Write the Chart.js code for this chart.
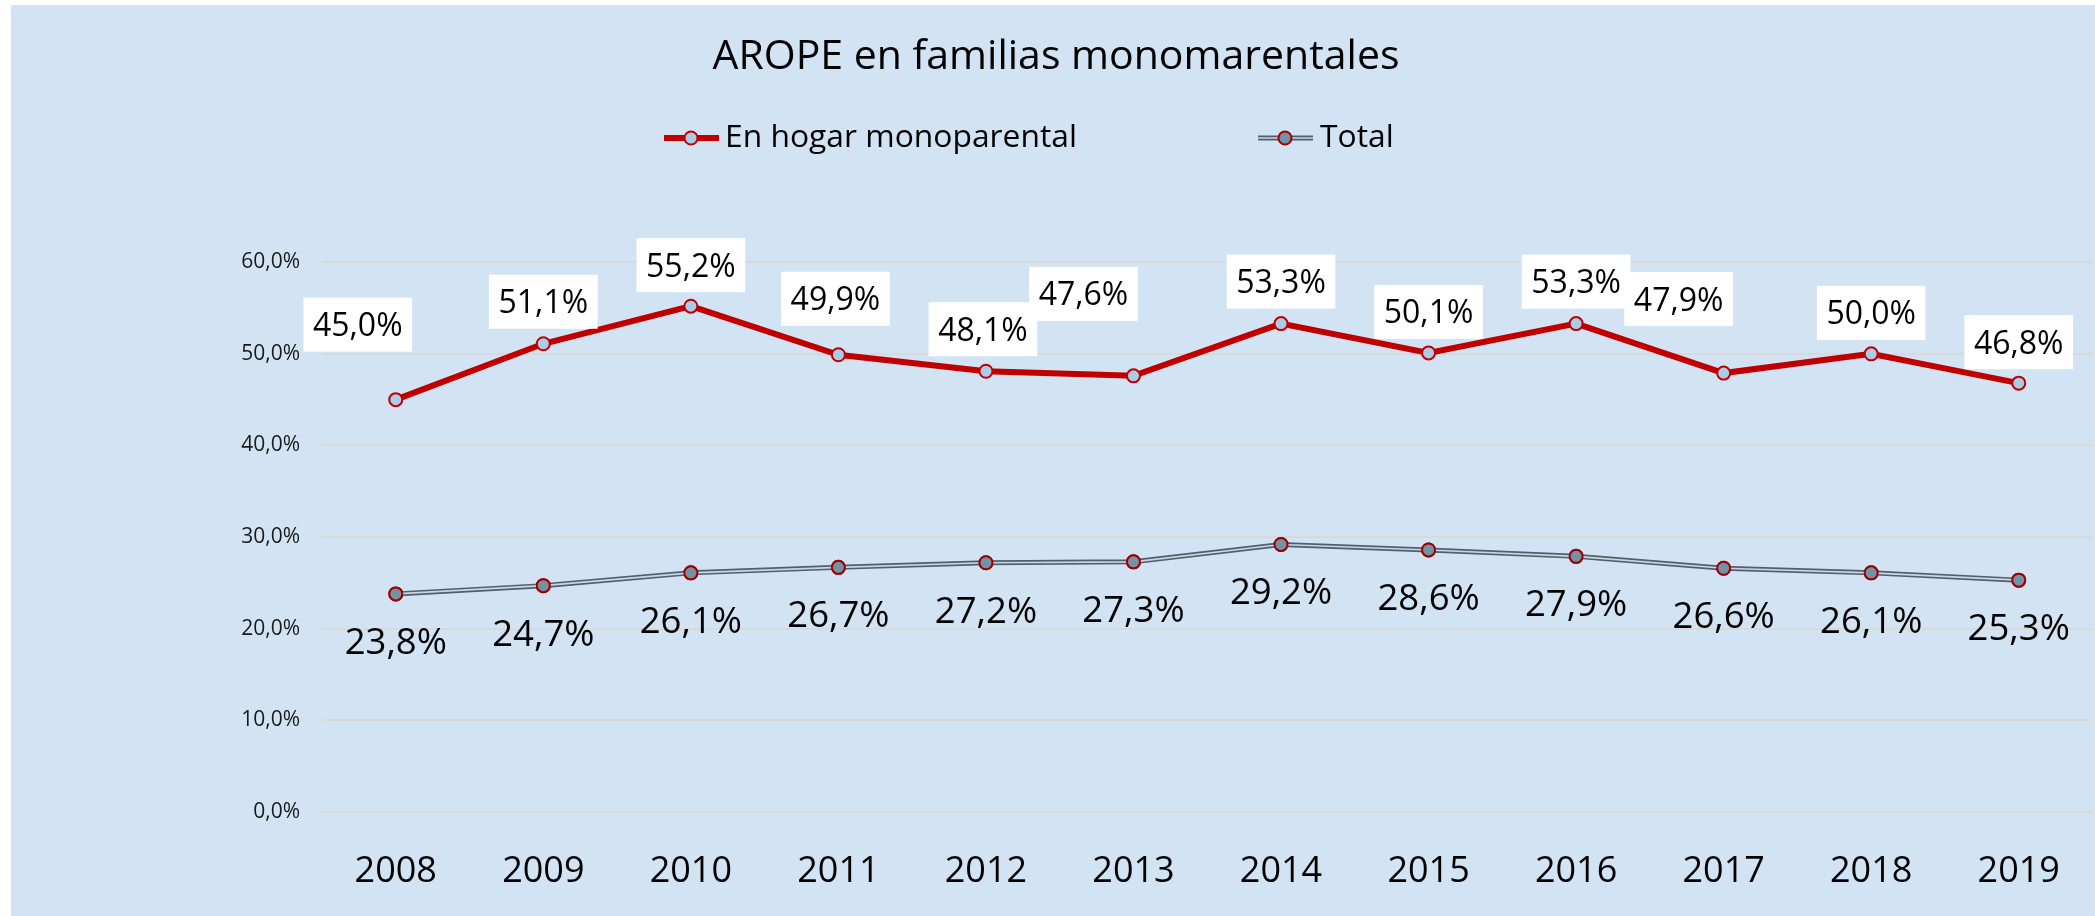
<!DOCTYPE html>
<html>
<head>
<meta charset="utf-8">
<title>AROPE en familias monomarentales</title>
<script src="https://cdn.jsdelivr.net/npm/chart.js@4.4.1/dist/chart.umd.min.js"></script>
<style>
  html, body { margin: 0; padding: 0; background: #ffffff; overflow: hidden; }
  #wrap { position: absolute; left: 0; top: 0; width: 2101px; height: 916px; }
</style>
</head>
<body>
<div id="wrap"><canvas id="aropeChart" width="2101" height="916"></canvas></div>
<script>
// Data
const years = ["2008", "2009", "2010", "2011", "2012", "2013", "2014", "2015", "2016", "2017", "2018", "2019"];
const monoparental = [45.0, 51.1, 55.2, 49.9, 48.1, 47.6, 53.3, 50.1, 53.3, 47.9, 50.0, 46.8];
const total = [23.8, 24.7, 26.1, 26.7, 27.2, 27.3, 29.2, 28.6, 27.9, 26.6, 26.1, 25.3];
const seriesNames = ["En hogar monoparental", "Total"];
const yMax = 60;
const yStep = 10;

// where each red label box sits, relative to its point (Excel moved a few of them by hand)
const monoLabelShift = [[-38, -75], [0, -42], [0, -41], [-3, -56], [-3, -42], [-50, -82],
                        [0, -42], [0, -41], [0, -42], [-45, -74], [0, -41], [0, -41]];
const totalLabelShift = 47;

const FONT = "'Open Sans', 'Noto Sans', sans-serif";
const RED = "#C00000";
const GREY_LINE = "#505F70";
const GREY_INNER = "#CDD6DF";

const fmt = (v) => v.toFixed(1).replace(".", ",") + "%";

// light blue panel behind everything
const panelBg = {
  id: "panelBg",
  beforeDraw(chart) {
    const ctx = chart.ctx;
    ctx.save();
    ctx.fillStyle = "#D2E4F4";
    ctx.fillRect(11, 5, chart.width - 11, chart.height - 5);
    ctx.restore();
  }
};

const dot = (ctx, x, y, fill, stroke) => {
  ctx.beginPath();
  ctx.arc(x, y, 6.5, 0, Math.PI * 2);
  ctx.fillStyle = fill;
  ctx.fill();
  ctx.lineWidth = 2;
  ctx.strokeStyle = stroke;
  ctx.stroke();
};

// the Total series is a double line: wide dark stroke with a thin light one on top
const doubleLine = {
  id: "doubleLine",
  afterDatasetDraw(chart, args) {
    if (args.index !== 1) return;
    const ctx = chart.ctx;
    const pts = args.meta.data;
    ctx.save();
    ctx.beginPath();
    pts.forEach((p, i) => (i === 0 ? ctx.moveTo(p.x, p.y) : ctx.lineTo(p.x, p.y)));
    ctx.lineWidth = 1.6;
    ctx.strokeStyle = GREY_INNER;
    ctx.stroke();
    ctx.restore();
    pts.forEach((p) => p.draw(ctx, chart.chartArea));
  }
};

// legend drawn by hand so the two entries can sit far apart like in Excel
const bigLegend = {
  id: "bigLegend",
  afterDraw(chart) {
    const ctx = chart.ctx;
    const y = 138;
    ctx.save();
    ctx.lineCap = "butt";
    // red entry
    ctx.beginPath();
    ctx.moveTo(664, y);
    ctx.lineTo(719, y);
    ctx.lineWidth = 6;
    ctx.strokeStyle = RED;
    ctx.stroke();
    dot(ctx, 691, y, "#A9CDE9", RED);
    // total entry
    ctx.beginPath();
    ctx.moveTo(1258, y);
    ctx.lineTo(1313, y);
    ctx.lineWidth = 5;
    ctx.strokeStyle = GREY_LINE;
    ctx.stroke();
    ctx.lineWidth = 1.6;
    ctx.strokeStyle = GREY_INNER;
    ctx.stroke();
    dot(ctx, 1285, y, "#7393A5", "#A00000");

    ctx.fillStyle = "#000000";
    ctx.font = "31.8px " + FONT;
    ctx.textBaseline = "middle";
    ctx.textAlign = "left";
    ctx.fillText(seriesNames[0], 725, y);
    ctx.fillText(seriesNames[1], 1320, y);
    ctx.restore();
  }
};

// value labels: white boxes above the red line, plain (bigger) text under the grey one
const valueLabels = {
  id: "valueLabels",
  afterDatasetsDraw(chart) {
    const ctx = chart.ctx;
    ctx.save();
    ctx.textAlign = "center";
    ctx.textBaseline = "alphabetic";

    ctx.font = "32px " + FONT;
    chart.getDatasetMeta(0).data.forEach((p, i) => {
      const txt = fmt(monoparental[i]);
      const cx = p.x + monoLabelShift[i][0];
      const cy = p.y + monoLabelShift[i][1];
      const w = ctx.measureText(txt).width + 19;
      ctx.fillStyle = "#FFFFFF";
      ctx.fillRect(cx - w / 2, cy - 27, w, 54);
      ctx.fillStyle = "#000000";
      ctx.fillText(txt, cx, cy + 32 * 0.357);
    });

    ctx.font = "36.5px " + FONT;
    chart.getDatasetMeta(1).data.forEach((p, i) => {
      ctx.fillStyle = "#000000";
      ctx.fillText(fmt(total[i]), p.x, p.y + totalLabelShift + 36.5 * 0.357);
    });
    ctx.restore();
  }
};

const ctx = document.getElementById("aropeChart").getContext("2d");
new Chart(ctx, {
  type: "line",
  data: {
    labels: years,
    datasets: [
      {
        label: seriesNames[0],
        data: monoparental,
        borderColor: RED,
        borderWidth: 6,
        pointRadius: 6.5,
        pointBorderWidth: 2,
        pointBackgroundColor: "#A9CDE9",
        pointBorderColor: RED,
        tension: 0
      },
      {
        label: seriesNames[1],
        data: total,
        borderColor: GREY_LINE,
        borderWidth: 5,
        pointRadius: 6.5,
        pointBorderWidth: 2,
        pointBackgroundColor: "#7393A5",
        pointBorderColor: "#A00000",
        tension: 0
      }
    ]
  },
  options: {
    responsive: false,
    animation: false,
    events: [],
    layout: { padding: { left: 11, top: 5, right: 0, bottom: 25 } },
    plugins: {
      legend: { display: false },
      tooltip: { enabled: false },
      title: {
        display: true,
        text: "AROPE en familias monomarentales",
        color: "#000000",
        font: { family: FONT, size: 41, weight: "normal" },
        padding: { top: 28, bottom: 180 }
      }
    },
    scales: {
      x: {
        offset: true,
        afterFit: (axis) => { axis.height = 79; },
        grid: { display: false },
        border: { display: false },
        ticks: {
          color: "#000000",
          padding: 30,
          maxRotation: 0,
          font: { family: FONT, size: 36 }
        }
      },
      y: {
        min: 0,
        max: yMax,
        afterFit: (axis) => { axis.width = 311; },
        grid: { color: "#D9D9D9", lineWidth: 2, drawTicks: false },
        border: { display: false },
        ticks: {
          stepSize: yStep,
          color: "#1A1A1A",
          padding: 22,
          font: { family: FONT, size: 21 },
          callback: (v) => fmt(v)
        }
      }
    }
  },
  plugins: [panelBg, doubleLine, valueLabels, bigLegend]
});
</script>
</body>
</html>
